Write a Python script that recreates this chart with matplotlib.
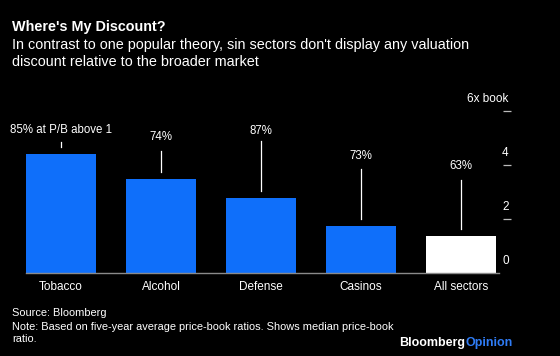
import matplotlib
matplotlib.use("Agg")
import matplotlib.pyplot as plt
from matplotlib.transforms import blended_transform_factory, offset_copy

categories = ["Tobacco", "Alcohol", "Defense", "Casinos", "All sectors"]
median_pb = [4.41, 3.5, 2.79, 1.75, 1.38]
share_labels = ["85% at P/B above 1", "74%", "87%", "73%", "63%"]
label_y = [5.3, 5.05, 5.27, 4.33, 3.96]
line_top = [4.85, 4.53, 4.89, 3.84, 3.44]
yticks = [0, 2, 4, 6]
ytick_labels = ["0", "2", "4", "6x book"]

BG = "#000000"
BLUE = "#0f6ffa"
plt.rcParams['font.family'] = ['Liberation Sans', 'DejaVu Sans']

fig = plt.figure(figsize=(5.6, 3.56), dpi=100, facecolor=BG)
W, H = 560, 356
ax = fig.add_axes([26 / W, (H - 273) / H, 473 / W, 162 / H], facecolor=BG)

colors = [BLUE] * (len(categories) - 1) + ["#ffffff"]
x = list(range(len(categories)))
ax.bar(x, median_pb, width=0.695, color=colors, zorder=2)
ax.set_xlim(-0.35, 4.38)
ax.set_ylim(0, 6)

for xi, v, lab, ly, lt in zip(x, median_pb, share_labels, label_y, line_top):
    ax.plot([xi, xi], [v + 0.24, lt], color="white", lw=0.9, clip_on=False)
    ax.text(xi, ly, lab, ha="center", va="center", color="white", fontsize=8.3, clip_on=False)

for s in ["top", "left"]:
    ax.spines[s].set_visible(False)
ax.spines["right"].set_position(("outward", 3))
ax.spines["right"].set_visible(False)
ax.spines["bottom"].set_color("#8a8a8a")
ax.spines["bottom"].set_linewidth(1.0)

ax.set_xticks(x)
ax.set_xticklabels(categories, color="white", fontsize=8.5)
ax.tick_params(axis="x", length=0, pad=6)

ax.yaxis.tick_right()
ax.set_yticks([t for t in yticks if t > 0])
ax.set_yticklabels([])
ax.tick_params(axis="y", length=6, width=0.9, color="#bbbbbb", pad=0, direction="out")
trans = blended_transform_factory(fig.transFigure, ax.transData)
for t, lab in zip(yticks, ytick_labels):
    if t == 6:
        ax.text(508 / W, t, lab, transform=offset_copy(trans, fig=fig, y=12, units="dots"),
                ha="right", va="center", color="white", fontsize=8.5, clip_on=False)
    else:
        ax.text(505.5 / W, t, lab, transform=offset_copy(trans, fig=fig, y=12, units="dots"),
                ha="center", va="center", color="white", fontsize=8.5, clip_on=False)

fig.text(12 / W, 1 - 27 / H, "Where's My Discount?", color="white", fontsize=10.4,
         fontweight="bold", va="center", ha="left")
fig.text(12 / W, 1 - 45 / H, "In contrast to one popular theory, sin sectors don't display any valuation",
         color="white", fontsize=10.4, va="center", ha="left")
fig.text(12 / W, 1 - 62 / H, "discount relative to the broader market",
         color="white", fontsize=10.4, va="center", ha="left")

fig.text(12 / W, 1 - 313 / H, "Source: Bloomberg", color="white", fontsize=7.9, va="center")
fig.text(12 / W, 1 - 326.5 / H, "Note: Based on five-year average price-book ratios. Shows median price-book",
         color="white", fontsize=7.9, va="center")
fig.text(12 / W, 1 - 339 / H, "ratio.", color="white", fontsize=7.9, va="center")

t1 = fig.text(399 / W, 1 - 343 / H, "Bloomberg", color="white", fontsize=9.0,
              fontweight="bold", va="center", ha="left")
fig.canvas.draw()
bb = t1.get_window_extent()
fig.text(bb.x1 / W, 1 - 343 / H, "Opinion", color="#2f7cf6", fontsize=9.0,
         fontweight="bold", va="center", ha="left")

fig.savefig("out.png", dpi=100, facecolor=BG)
